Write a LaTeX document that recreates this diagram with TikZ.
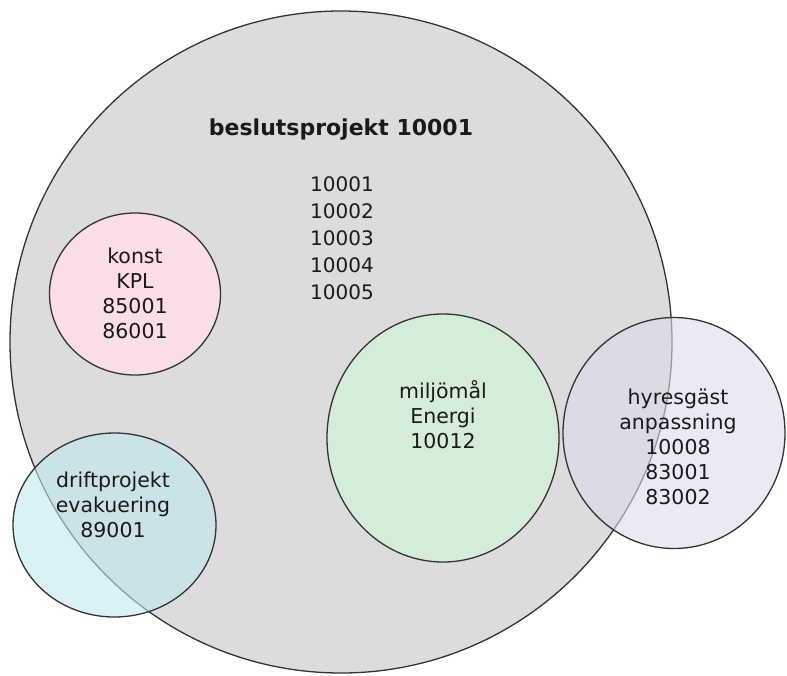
\documentclass[tikz,border=0pt]{standalone}
\usepackage{fontspec}
\setmainfont{DejaVu Sans}
\usetikzlibrary{shapes.geometric}
\definecolor{bigfill}{HTML}{DCDCDC}
\definecolor{edge}{HTML}{333333}
\definecolor{pinkfill}{HTML}{FADDE6}
\definecolor{greenfill}{HTML}{D5EDD8}
\definecolor{cyanbase}{RGB}{193,232,240}
\definecolor{purplebase}{RGB}{223,218,238}
\definecolor{txt}{HTML}{1A1A1A}
\tikzset{
  blob/.style={ellipse, draw=edge, line width=1.3pt, inner sep=0pt},
  lbl/.style={align=center, text=txt, font=\fontsize{20.5}{25}\selectfont},
}
\begin{document}
\begin{tikzpicture}[x=1pt,y=-1pt]
\useasboundingbox (0,0) rectangle (787,675);
\node[blob, fill=bigfill, minimum width=662pt, minimum height=662pt] (big) at (341,342) {};
\node[blob, fill=pinkfill, minimum width=171pt, minimum height=162pt] (konst) at (135,294) {};
\node[blob, fill=greenfill, minimum width=232pt, minimum height=248pt] (miljo) at (443,438) {};
\node[blob, fill=purplebase, fill opacity=0.6, minimum width=222pt, minimum height=231pt] (hyres) at (674,433) {};
\node[blob, fill=cyanbase, fill opacity=0.6, minimum width=203pt, minimum height=184pt] (drift) at (114.5,525) {};
\node[lbl, font=\fontsize{22}{25}\selectfont\bfseries] (title) at (341,130) {beslutsprojekt 10001};
\node[lbl, font=\fontsize{20}{27}\selectfont] (nums) at (342,238) {10001\\10002\\10003\\10004\\10005};
\node[lbl] (konsttxt) at (135,293) {konst\\KPL\\85001\\86001};
\node[lbl] (miljotxt) at (443,415) {miljömål\\Energi\\10012};
\node[lbl] (hyrestxt) at (678,447) {hyresgäst\\anpassning\\10008\\83001\\83002};
\node[lbl] (drifttxt) at (113,505) {driftprojekt\\evakuering\\89001};
\end{tikzpicture}
\end{document}
